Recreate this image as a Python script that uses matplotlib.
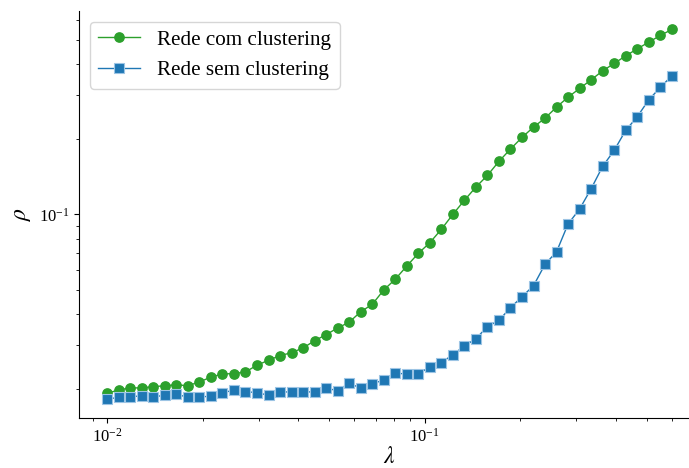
import numpy as np
import matplotlib
matplotlib.use("Agg")
import matplotlib.pyplot as plt

plt.rcParams['font.family'] = ['Liberation Serif', 'DejaVu Serif']
plt.rcParams['mathtext.fontset'] = 'stix'

# lambda grid (50 log-spaced points from 0.01 to 0.6)
lam = [0.01000, 0.010872, 0.011819, 0.012849, 0.013969, 0.015186, 0.016510, 0.017948,
       0.019513, 0.021213, 0.023062, 0.025072, 0.027257, 0.029632, 0.032214, 0.035022,
       0.038074, 0.041392, 0.044999, 0.048921, 0.053184, 0.057819, 0.062858, 0.068336,
       0.074292, 0.080766, 0.087805, 0.095457, 0.10378, 0.11282, 0.12265, 0.13334,
       0.14496, 0.15760, 0.17133, 0.18626, 0.20249, 0.22014, 0.23933, 0.26018,
       0.28286, 0.30751, 0.33431, 0.36344, 0.39511, 0.42955, 0.46698, 0.50768,
       0.55192, 0.60002]

# rho, network with clustering
rho_com = [0.01923, 0.01982, 0.0202, 0.0202, 0.02044, 0.0206, 0.0208, 0.0206,
           0.02135, 0.0223, 0.02298, 0.02304, 0.0234, 0.0249, 0.02606, 0.0272,
           0.02795, 0.0292, 0.0312, 0.033, 0.0351, 0.037, 0.04076, 0.0436,
           0.0498, 0.0550, 0.0621, 0.0698, 0.0770, 0.0871, 0.100, 0.1138,
           0.1286, 0.1432, 0.163, 0.1825, 0.2032, 0.2235, 0.2427, 0.2687,
           0.2945, 0.319, 0.3455, 0.3753, 0.4018, 0.4309, 0.4597, 0.4888,
           0.52, 0.5495]

# rho, network without clustering
rho_sem = [0.0182, 0.01853, 0.01864, 0.01876, 0.01853, 0.01893, 0.01905, 0.01853,
           0.01853, 0.01876, 0.01933, 0.01977, 0.01952, 0.01933, 0.01888, 0.01946,
           0.01946, 0.0194, 0.01952, 0.02014, 0.0197, 0.0211, 0.02014, 0.02096,
           0.02174, 0.02312, 0.02298, 0.02291, 0.02457, 0.0255, 0.02744, 0.02972,
           0.0318, 0.03551, 0.03767, 0.04229, 0.04681, 0.05181, 0.0631, 0.07086,
           0.0915, 0.1050, 0.1266, 0.1556, 0.1803, 0.2168, 0.2457, 0.2873,
           0.3221, 0.3584]

fig = plt.figure(figsize=(6.89, 4.68), dpi=100)
ax = fig.add_axes([79 / 689, 50.3 / 468, 621 / 689, 406.7 / 468])

ax.plot(lam, rho_com, 'o-', color='#2ca02c', markersize=6.7, linewidth=1,
        label='Rede com clustering')
ax.plot(lam, rho_sem, 's-', color='#1f77b4', markersize=7, linewidth=1,
        markeredgecolor='#9cc4e4', markeredgewidth=0.8,
        label='Rede sem clustering')

ax.set_xscale('log')
ax.set_yscale('log')
ax.spines['top'].set_visible(False)
ax.spines['right'].set_visible(False)
ax.tick_params(labelsize=12)
ax.set_xlabel(r'$\lambda$', fontsize=17, labelpad=1)
ax.set_ylabel(r'$\rho$', fontsize=17)
ax.legend(loc='upper left', fontsize=15.2)

fig.savefig('out.png', dpi=100)
